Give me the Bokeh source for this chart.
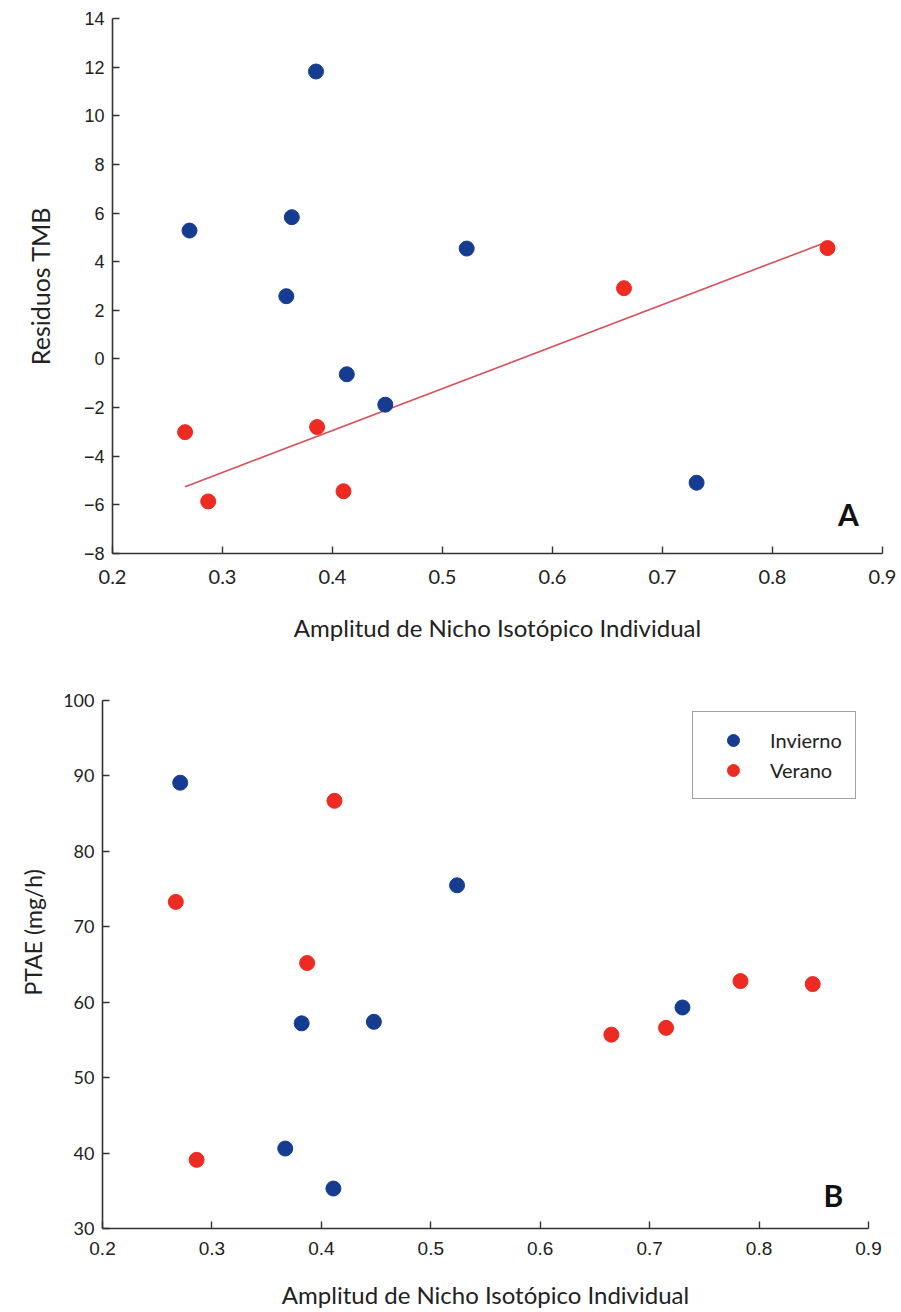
import numpy as np
from bokeh.plotting import figure
from bokeh.models import Range1d, FixedTicker, Legend, LegendItem, Label, Title
from bokeh.embed import file_html
from bokeh.resources import INLINE

# ---------------- data ----------------
x_ticks = [0.2, 0.3, 0.4, 0.5, 0.6, 0.7, 0.8, 0.9]
top_y_ticks = [-8, -6, -4, -2, 0, 2, 4, 6, 8, 10, 12, 14]
bot_y_ticks = [30, 40, 50, 60, 70, 80, 90, 100]

# Panel A: Residuos TMB
a_inv_x = [0.385, 0.270, 0.363, 0.522, 0.358, 0.413, 0.448, 0.731]
a_inv_y = [11.82, 5.28, 5.83, 4.54, 2.58, -0.63, -1.88, -5.09]
a_ver_x = [0.266, 0.386, 0.287, 0.410, 0.665, 0.850]
a_ver_y = [-3.01, -2.80, -5.86, -5.44, 2.91, 4.56]

# Panel B: PTAE (mg/h)
b_inv_x = [0.271, 0.524, 0.382, 0.448, 0.367, 0.411, 0.730]
b_inv_y = [89.1, 75.5, 57.2, 57.4, 40.6, 35.3, 59.3]
b_ver_x = [0.412, 0.267, 0.387, 0.286, 0.665, 0.715, 0.783, 0.849]
b_ver_y = [86.7, 73.3, 65.2, 39.1, 55.7, 56.6, 62.8, 62.4]

series_names = ["Invierno", "Verano"]
x_title = "Amplitud de Nicho Isotópico Individual"

BLUE = "#163c92"
RED = "#ee2b22"
LINE_RED = "#d9505a"
AXIS = "#333333"
TXT = "#222222"


def make_fig(height, xr, yr, mbl, mbr, mbt, mbb):
    p = figure(width=901, height=height, x_range=Range1d(*xr), y_range=Range1d(*yr),
               output_backend="svg", toolbar_location=None,
               min_border_left=mbl, min_border_right=mbr,
               min_border_top=mbt, min_border_bottom=mbb)
    p.xgrid.visible = False
    p.ygrid.visible = False
    p.outline_line_color = None
    for ax in (p.xaxis, p.yaxis):
        ax.axis_line_color = AXIS
        ax.axis_line_width = 1.6
        ax.major_tick_line_color = AXIS
        ax.major_tick_line_width = 1.4
        ax.major_tick_in = 7
        ax.major_tick_out = 0
        ax.minor_tick_line_color = None
        ax.major_label_text_color = TXT
        ax.axis_label_text_color = TXT
        ax.axis_label_text_font_style = "normal"
        ax.axis_label_text_font = "Lato"
    p.xaxis.ticker = FixedTicker(ticks=x_ticks)
    return p


# ---------------- Panel A ----------------
p1 = make_fig(660, (0.2, 0.9), (-8, 14), 112, 19, 18, 107)
p1.yaxis.ticker = FixedTicker(ticks=top_y_ticks)
p1.yaxis.major_label_text_font = "Liberation Sans"
p1.yaxis.major_label_text_font_size = "18px"
p1.yaxis.major_label_standoff = 8
p1.xaxis.major_label_text_font = "Lato"
p1.xaxis.major_label_text_font_size = "20px"
p1.xaxis.major_label_standoff = 16
p1.yaxis.axis_label = "Residuos TMB"
p1.yaxis.axis_label_text_font_size = "25px"
p1.yaxis.axis_label_standoff = 26
p1.xaxis.axis_label = x_title
p1.xaxis.axis_label_text_font_size = "24px"
p1.xaxis.axis_label_standoff = 26

fit = np.polyfit(a_ver_x, a_ver_y, 1)
fx = np.array([min(a_ver_x), max(a_ver_x)])
p1.line(fx, np.polyval(fit, fx), line_color=LINE_RED, line_width=1.6)
p1.scatter(a_inv_x, a_inv_y, size=15, fill_color=BLUE, line_color=BLUE)
p1.scatter(a_ver_x, a_ver_y, size=15, fill_color=RED, line_color=RED)
p1.add_layout(Label(x=0.869, y=-6.38, text="A", text_font="Lato", text_font_style="bold",
                    text_font_size="30px", text_align="center", text_baseline="middle",
                    text_color="#111111"))

# ---------------- Panel B ----------------
p2 = make_fig(652, (0.2, 0.9), (30, 100), 102, 33, 40, 84)
p2.yaxis.ticker = FixedTicker(ticks=bot_y_ticks)
p2.yaxis.major_label_text_font = "Lato"
p2.yaxis.major_label_text_font_size = "18px"
p2.yaxis.major_label_standoff = 8
p2.xaxis.major_label_text_font = "Liberation Sans"
p2.xaxis.major_label_text_font_size = "19px"
p2.xaxis.major_label_standoff = 13
p2.xaxis.axis_label = x_title
p2.xaxis.axis_label_text_font_size = "24px"
p2.xaxis.axis_label_standoff = 22
p2.add_layout(Title(text="PTAE (mg/h)", align="left", offset=233, standoff=27,
                    text_font="Lato", text_font_size="23px", text_font_style="normal",
                    text_color=TXT), "left")

r_inv = p2.scatter(b_inv_x, b_inv_y, size=15, fill_color=BLUE, line_color=BLUE)
r_ver = p2.scatter(b_ver_x, b_ver_y, size=15, fill_color=RED, line_color=RED)
p2.add_layout(Label(x=0.868, y=34.4, text="B", text_font="Lato", text_font_style="bold",
                    text_font_size="30px", text_align="center", text_baseline="middle",
                    text_color="#111111"))

legend = Legend(items=[LegendItem(label=series_names[0], renderers=[r_inv]),
                       LegendItem(label=series_names[1], renderers=[r_ver])],
                location=(590, 429), orientation="vertical",
                border_line_color="#444444", border_line_width=1.5,
                background_fill_color="white", background_fill_alpha=1.0,
                label_text_font="Lato", label_text_font_size="20px", label_text_color=TXT,
                glyph_width=54, glyph_height=30, label_height=24, spacing=-3,
                padding=13, label_standoff=10, margin=0)
p2.add_layout(legend)

open("out.html", "w").write(file_html([p1, p2], INLINE))
